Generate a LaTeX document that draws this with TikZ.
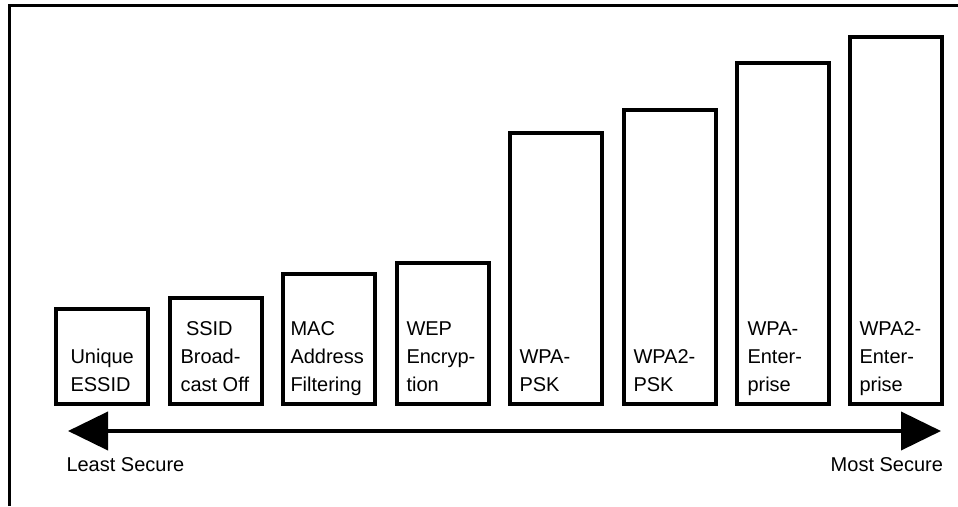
\documentclass[tikz,border=0pt]{standalone}
\usepackage{fontspec}
\setmainfont{Liberation Sans}
\usetikzlibrary{arrows.meta}
\begin{document}
\begin{tikzpicture}[x=1pt,y=1pt,
  bar/.style={draw=black, line width=4pt, inner sep=0pt, outer sep=0pt,
    minimum width=92pt, anchor=south west, rectangle},
  lab/.style={inner sep=0pt, outer sep=0pt, anchor=base west,
    font=\fontsize{20}{28}\selectfont},
  endlab/.style={inner sep=0pt, outer sep=0pt, font=\fontsize{20}{28}\selectfont},
  frameline/.style={line width=3.5pt, line join=miter},
  scale arrow/.style={line width=4pt, {Triangle[length=40pt,width=38pt]}-{Triangle[length=40pt,width=38pt]}}
]
\useasboundingbox (0,0) rectangle (958,506);
% frame
\draw[frameline] (9.5,0) -- (9.5,500.5) -- (958,500.5);
% bars
\node[bar, minimum height=94.5pt]  (b1) at (56,102) {};
\node[bar, minimum height=106pt]   (b2) at (169.5,102) {};
\node[bar, minimum height=130pt]   (b3) at (283,102) {};
\node[bar, minimum height=141pt]   (b4) at (396.5,102) {};
\node[bar, minimum height=271pt]   (b5) at (510,102) {};
\node[bar, minimum height=294pt]   (b6) at (623.5,102) {};
\node[bar, minimum height=341pt]   (b7) at (737,102) {};
\node[bar, minimum height=366.5pt] (b8) at (850,102) {};
% labels
\node[lab] (l1) at (70.5,114) {\begin{tabular}[b]{@{}l@{}}Unique\\ESSID\end{tabular}};
\node[lab] (l2) at (180.5,114) {\begin{tabular}[b]{@{}l@{}}\hspace{5.5pt}SSID\\Broad-\\cast Off\end{tabular}};
\node[lab] (l3) at (290.5,114) {\begin{tabular}[b]{@{}l@{}}MAC\\Address\\Filtering\end{tabular}};
\node[lab] (l4) at (406.5,114) {\begin{tabular}[b]{@{}l@{}}WEP\\Encryp-\\tion\end{tabular}};
\node[lab] (l5) at (519.5,114) {\begin{tabular}[b]{@{}l@{}}WPA-\\PSK\end{tabular}};
\node[lab] (l6) at (633.5,114) {\begin{tabular}[b]{@{}l@{}}WPA2-\\PSK\end{tabular}};
\node[lab] (l7) at (747.5,114) {\begin{tabular}[b]{@{}l@{}}WPA-\\Enter-\\prise\end{tabular}};
\node[lab] (l8) at (859.5,114) {\begin{tabular}[b]{@{}l@{}}WPA2-\\Enter-\\prise\end{tabular}};
% scale arrow
\coordinate (lsend) at (68,75);
\coordinate (msend) at (941,75);
\draw[scale arrow] (lsend) -- (msend);
\node[endlab, anchor=base west] (least) at (66.5,35) {Least Secure};
\node[endlab, anchor=base east] (most) at (943,35) {Most Secure};
\end{tikzpicture}
\end{document}
